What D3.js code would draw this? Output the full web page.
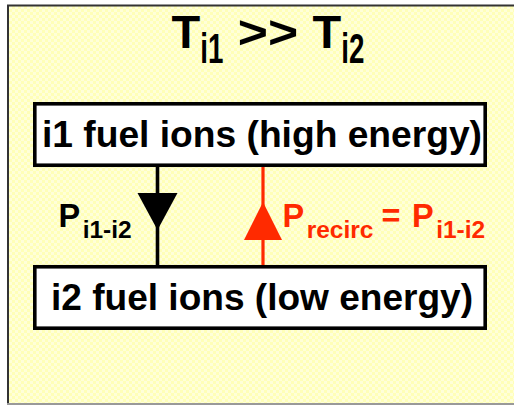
<!DOCTYPE html>
<html>
<head>
<meta charset="utf-8">
<script src="https://cdn.jsdelivr.net/npm/d3@7"></script>
<style>
  html, body { margin: 0; padding: 0; background: #fff; }
  svg { display: block; }
  text { font-family: "Liberation Sans", Arial, Helvetica, sans-serif; font-weight: bold; }
</style>
</head>
<body>
<svg id="chart"></svg>
<script>
/* ===== DATA ===== */

// the two ion populations (top = hot, bottom = cold)
const boxLabels = ["i1 fuel ions (high energy)", "i2 fuel ions (low energy)"];

// power flows between the boxes
const flows = ["down", "up"];
const flowColors = ["#000000", "#ff2a00"];

// rich labels: [text, isSubscript]
const titleParts = [["T", 0], ["i1", 1], [" >> ", 0], ["T", 0], ["i2", 1]];
const flowLabelParts = [
    [["P", 0], ["i1-i2", 1]],
    [["P", 0], ["recirc", 1], [" = ", 0], ["P", 0], ["i1-i2", 1]]
];


/* ===== SETUP ===== */

const width = 514, height = 406;

const svg = d3.select("#chart")
    .attr("width", width)
    .attr("height", height);

// light yellow checker background
const defs = svg.append("defs");
const pat = defs.append("pattern")
    .attr("id", "checker")
    .attr("width", 6).attr("height", 6)
    .attr("patternUnits", "userSpaceOnUse");
pat.append("rect").attr("width", 6).attr("height", 6).attr("fill", "#ffffd9");
pat.append("rect").attr("width", 3).attr("height", 3).attr("fill", "#ffffb8");
pat.append("rect").attr("x", 3).attr("y", 3).attr("width", 3).attr("height", 3).attr("fill", "#ffffb8");

svg.append("rect")
    .attr("x", 7).attr("y", 5)
    .attr("width", width - 7).attr("height", 399)
    .attr("fill", "url(#checker)");

// frame: dark top/left, light bottom
svg.append("path")
    .attr("d", `M8,404 V5.5 H${width}`)
    .attr("fill", "none")
    .attr("stroke", "#333")
    .attr("stroke-width", 2);
svg.append("line")
    .attr("x1", 7).attr("x2", width)
    .attr("y1", 404).attr("y2", 404)
    .attr("stroke", "#999")
    .attr("stroke-width", 2);


/* ===== SCALES ===== */

const y = d3.scaleBand()
    .domain(boxLabels)
    .range([102, 330])
    .paddingInner(0.601);

const x = d3.scalePoint()
    .domain(flows)
    .range([157.5, 263]);

const boxX0 = 33, boxX1 = 487;
const boxStroke = 3.6;


/* ===== RICH TEXT HELPER ===== */

// lays out parts left to right; opts: size, subSize, subDy, subScaleX, gaps
function richText(parent, parts, x0, baseline, opts) {
    const g = parent.append("g");
    let cx = x0;
    parts.forEach(([t, sub], i) => {
        cx += (opts.gaps && opts.gaps[i]) || 0;
        const sx = sub ? (opts.subScaleX || 1) : (opts.scaleX && opts.scaleX[i]) || 1;
        const node = g.append("text")
            .attr("transform", `translate(${cx},${baseline + (sub ? opts.subDy : 0)}) scale(${sx},1)`)
            .attr("font-size", sub ? opts.subSize : opts.size)
            .attr("fill", opts.color || "#000")
            .style("white-space", "pre")
            .attr("xml:space", "preserve")
            .text(t);
        cx += node.node().getComputedTextLength() * sx;
    });
    return { g, width: cx - x0 };
}


/* ===== TITLE ===== */

const titleOpts = { size: 47, subSize: 42, subDy: 15, subScaleX: 0.66, scaleX: [1, 1, 1.1, 1, 1] };
const probe = richText(svg, titleParts, 0, 48, titleOpts);
probe.g.remove();
richText(svg, titleParts, 269 - probe.width / 2 - 1, 48, titleOpts);


/* ===== BOXES ===== */

const box = svg.selectAll(".box")
    .data(boxLabels)
    .enter()
    .append("g")
    .attr("class", "box");

box.append("rect")
    .attr("x", boxX0 + boxStroke / 2)
    .attr("y", d => y(d) + boxStroke / 2)
    .attr("width", boxX1 - boxX0 - boxStroke)
    .attr("height", y.bandwidth() - boxStroke)
    .attr("fill", "#fff")
    .attr("stroke", "#000")
    .attr("stroke-width", boxStroke);

const textSpans = [[42, 482], [51, 473]];
box.append("text")
    .attr("x", (d, i) => textSpans[i][0])
    .attr("y", d => y(d) + y.bandwidth() / 2 + 12.5)
    .attr("font-size", 36)
    .attr("textLength", (d, i) => textSpans[i][1] - textSpans[i][0])
    .attr("lengthAdjust", "spacingAndGlyphs")
    .text(d => d);


/* ===== FLOW ARROWS ===== */

const yTop = y(boxLabels[0]) + y.bandwidth();
const yBot = y(boxLabels[1]);

const flow = svg.selectAll(".flow")
    .data(flows)
    .enter()
    .append("g")
    .attr("class", "flow");

flow.append("line")
    .attr("x1", d => x(d)).attr("x2", d => x(d))
    .attr("y1", yTop).attr("y2", yBot)
    .attr("stroke", (d, i) => flowColors[i])
    .attr("stroke-width", (d, i) => i ? 3.2 : 3.6);

// triangle heads: down one wide at top, up one wide at bottom
flow.append("path")
    .attr("fill", (d, i) => flowColors[i])
    .attr("d", d => {
        const cx = x(d);
        return d === "down"
            ? `M${cx - 20},193 L${cx + 20},193 L${cx},230 Z`
            : `M${cx - 19},240 L${cx + 19},240 L${cx},202 Z`;
    });

// labels
richText(svg, flowLabelParts[0], 58.5, 226.5,
    { size: 32.5, subSize: 24.5, subDy: 11.5, gaps: [0, 2.5] });
richText(svg, flowLabelParts[1], 282.5, 226.5,
    { size: 32.5, subSize: 24.5, subDy: 11.5, gaps: [0, 2.5, -1, 2.5, 2.5], color: flowColors[1] });
</script>
</body>
</html>
